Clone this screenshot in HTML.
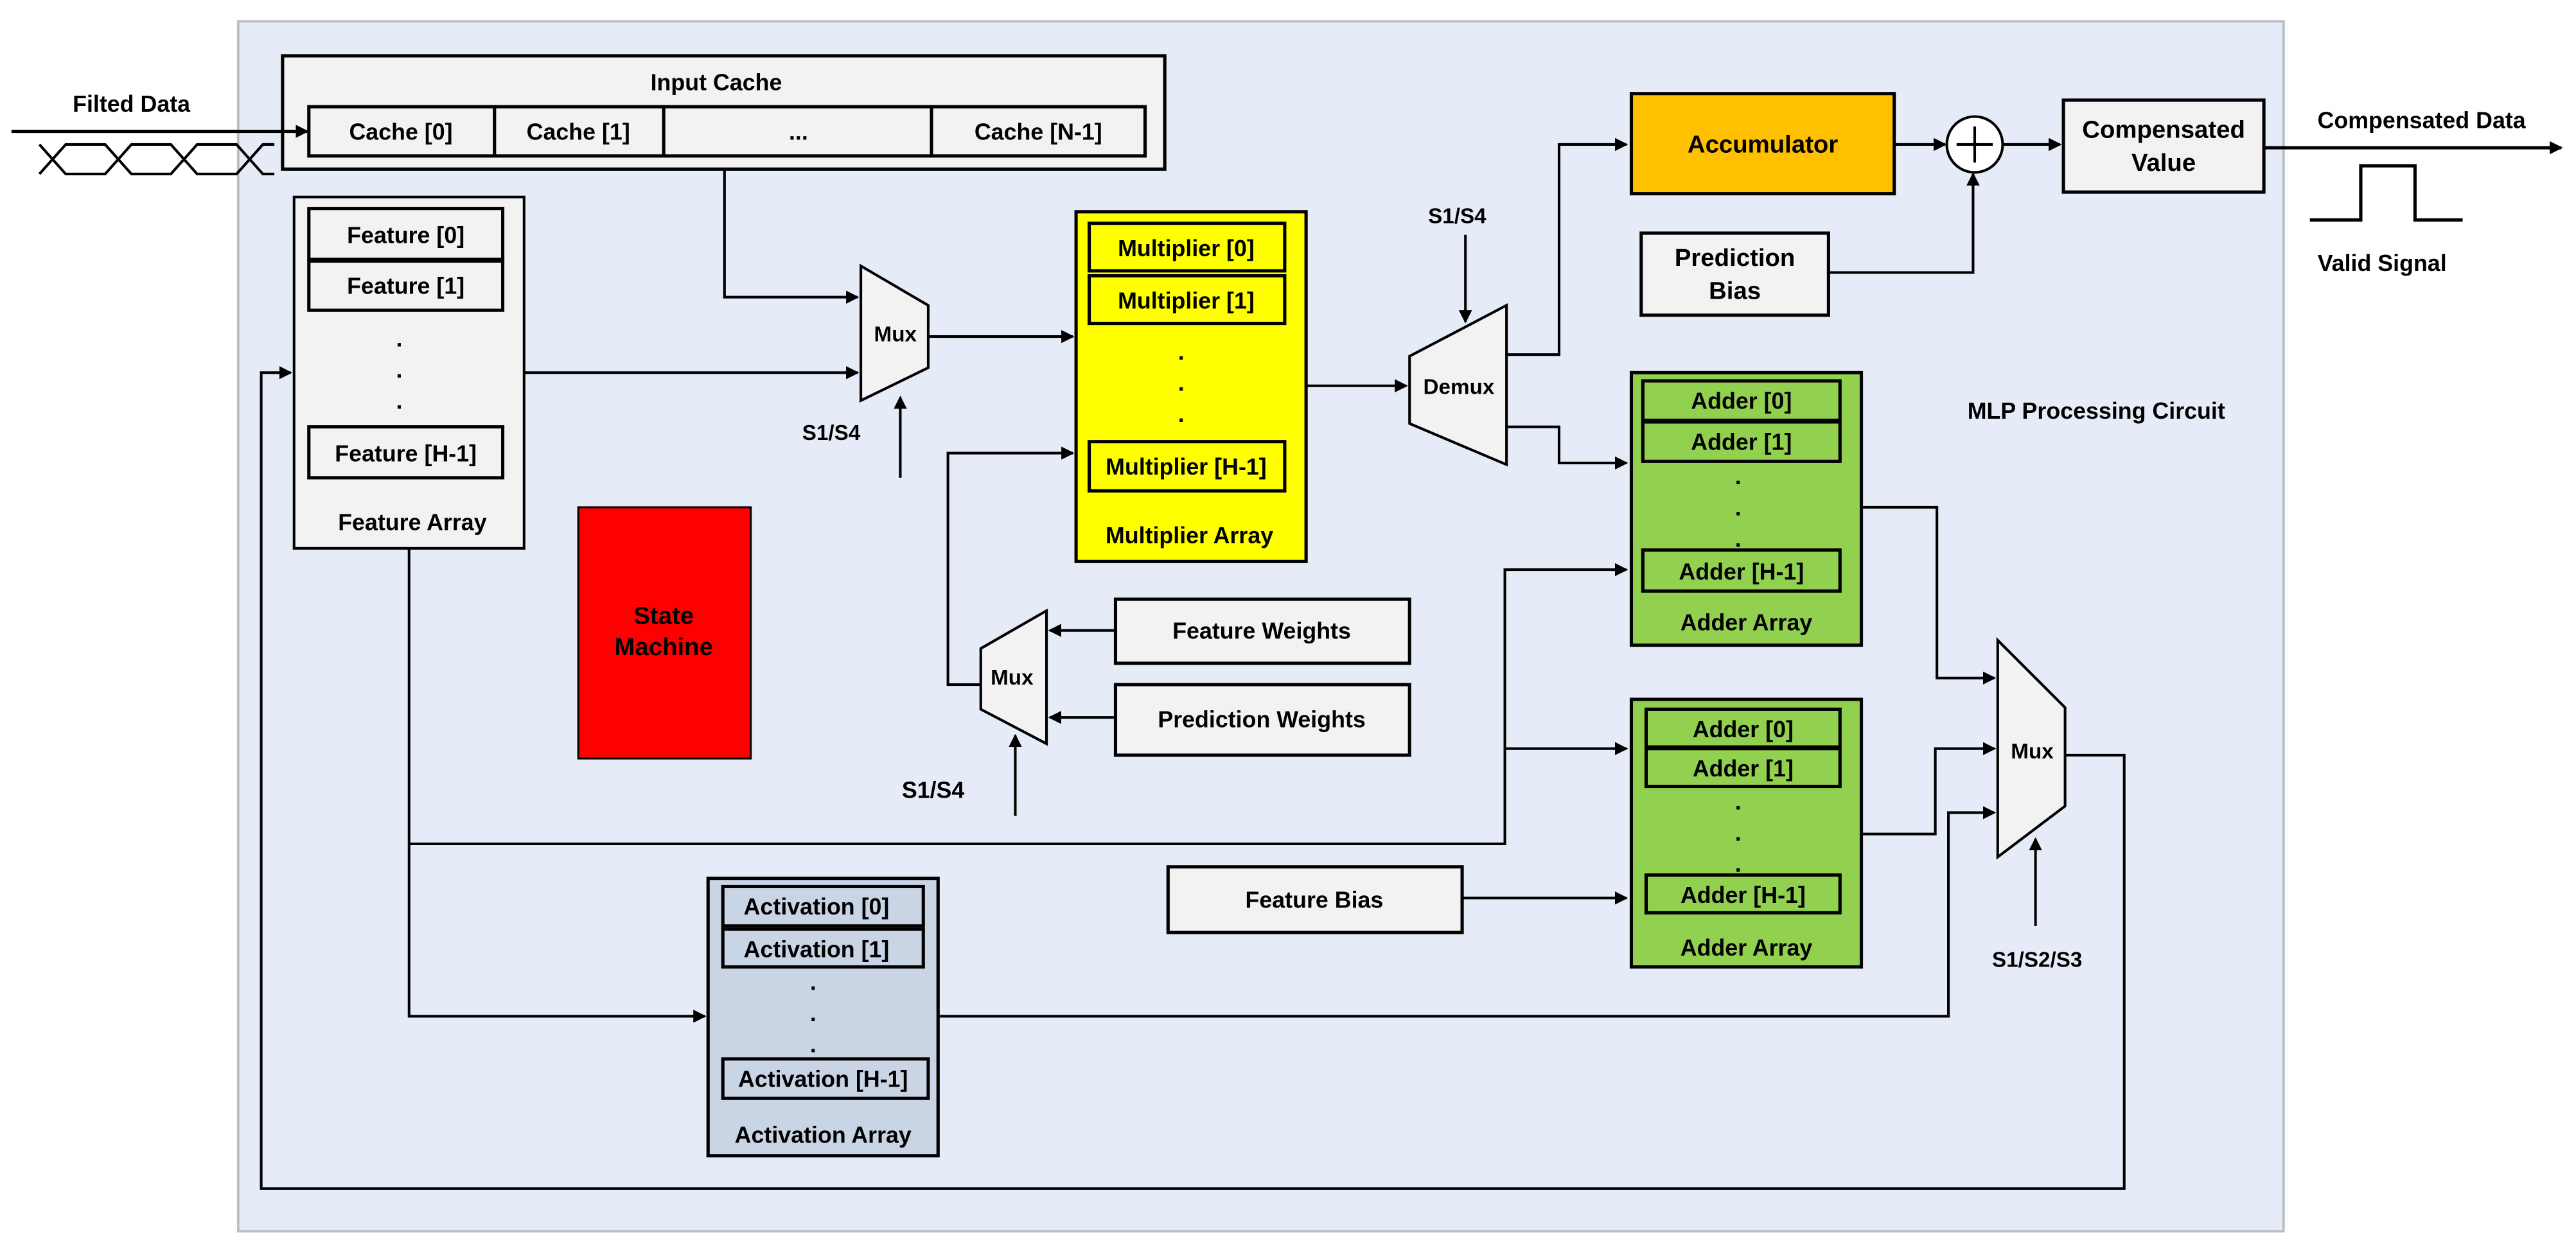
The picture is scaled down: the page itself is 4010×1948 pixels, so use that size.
<!DOCTYPE html>
<html><head><meta charset="utf-8"><style>
html,body{margin:0;padding:0;background:#fff;}
svg{display:block;}
text{font-family:"Liberation Sans",sans-serif;font-weight:bold;fill:#000;}
</style></head><body>
<svg width="4010" height="1948" viewBox="0 0 1568 762" preserveAspectRatio="none" xmlns="http://www.w3.org/2000/svg">
<defs>
<marker id="a" markerWidth="8" markerHeight="8" refX="7" refY="4" orient="auto" markerUnits="userSpaceOnUse"><path d="M0,0 L8,4 L0,8 z" fill="#000"/></marker>
</defs>
<rect x="145" y="13" width="1245" height="737" fill="#e6ecf7" stroke="#b8bec8" stroke-width="1.5"/>

<g stroke="#000" fill="none" stroke-width="1.6">
<path d="M24,88 L32,97 L40,106 L64,106 L72,97 L80,88 L104,88 L112,97 L120,106 L144,106 L152,97 L160,88 L167,88"/>
<path d="M24,106 L32,97 L40,88 L64,88 L72,97 L80,106 L104,106 L112,97 L120,88 L144,88 L152,97 L160,106 L167,106"/>
<!-- cache to mux -->
<polyline points="441,103 441,181 522,181" marker-end="url(#a)"/>
<line x1="319" y1="227" x2="522" y2="227" marker-end="url(#a)"/>
<line x1="548" y1="291" x2="548" y2="242" marker-end="url(#a)"/>
<line x1="565" y1="205" x2="653" y2="205" marker-end="url(#a)"/>
<!-- mux2 to mult -->
<polyline points="597,417 577,417 577,276 653,276" marker-end="url(#a)"/>
<line x1="679" y1="384" x2="639" y2="384" marker-end="url(#a)"/>
<line x1="679" y1="437" x2="639" y2="437" marker-end="url(#a)"/>
<line x1="618" y1="497" x2="618" y2="448" marker-end="url(#a)"/>
<!-- mult to demux -->
<line x1="795" y1="235" x2="856" y2="235" marker-end="url(#a)"/>
<line x1="892" y1="143" x2="892" y2="196" marker-end="url(#a)"/>
<polyline points="917,216 949,216 949,88 990,88" marker-end="url(#a)"/>
<polyline points="917,260 949,260 949,282 990,282" marker-end="url(#a)"/>
<line x1="1153" y1="88" x2="1184" y2="88" marker-end="url(#a)"/>
<line x1="1219" y1="88" x2="1254" y2="88" marker-end="url(#a)"/>
<polyline points="1113,166 1201,166 1201,106" marker-end="url(#a)"/>
<line x1="1378" y1="90" x2="1559" y2="90" stroke-width="2" marker-end="url(#a)"/>
<polyline points="1406,134 1437,134 1437,101 1470,101 1470,134 1499,134" stroke-width="2"/>
<!-- feature array down -->
<polyline points="249,334 249,619 429,619" marker-end="url(#a)"/>
<polyline points="249,514 916,514 916,347 990,347" marker-end="url(#a)"/>
<line x1="916" y1="456" x2="990" y2="456" marker-end="url(#a)"/>
<line x1="890" y1="547" x2="990" y2="547" marker-end="url(#a)"/>
<!-- to mux3 -->
<polyline points="1133,309 1179,309 1179,413 1214,413" marker-end="url(#a)"/>
<polyline points="1133,508 1178,508 1178,456 1214,456" marker-end="url(#a)"/>
<polyline points="571,619 1186,619 1186,495 1214,495" marker-end="url(#a)"/>
<line x1="1239" y1="564" x2="1239" y2="511" marker-end="url(#a)"/>
<polyline points="1257,460 1293,460 1293,724 159,724 159,227 177,227" marker-end="url(#a)"/>
</g>

<!-- Input cache -->
<rect x="172" y="34" width="537" height="69" fill="#f2f2f2" stroke="#000" stroke-width="2"/>
<rect x="188" y="65" width="509" height="30" fill="#f2f2f2" stroke="#000" stroke-width="2"/>
<g stroke="#000" stroke-width="2"><line x1="301" y1="65" x2="301" y2="95"/><line x1="404" y1="65" x2="404" y2="95"/><line x1="567" y1="65" x2="567" y2="95"/></g>
<line x1="7" y1="80" x2="187" y2="80" stroke="#000" stroke-width="2" marker-end="url(#a)"/>
<g font-size="14" text-anchor="middle">
<text x="436" y="55">Input Cache</text>
<text x="244" y="85">Cache [0]</text><text x="352" y="85">Cache [1]</text><text x="486" y="85">...</text><text x="632" y="85">Cache [N-1]</text>
<text x="80" y="68">Filted Data</text>
</g>

<!-- Feature array -->
<rect x="179" y="120" width="140" height="214" fill="#f2f2f2" stroke="#000" stroke-width="1.6"/>
<g fill="#f2f2f2" stroke="#000" stroke-width="2">
<rect x="188" y="127" width="118" height="31"/><rect x="188" y="159" width="118" height="30"/><rect x="188" y="260" width="118" height="31"/></g>
<g font-size="14" text-anchor="middle">
<text x="247" y="148">Feature [0]</text><text x="247" y="179">Feature [1]</text>
<text x="243" y="211">.</text><text x="243" y="230">.</text><text x="243" y="249">.</text>
<text x="247" y="281">Feature [H-1]</text><text x="251" y="323">Feature Array</text>
</g>

<!-- Mux1 -->
<polygon points="524,162 565,186 565,224 524,244" fill="#f2f2f2" stroke="#000" stroke-width="1.6"/>
<text x="545" y="208" font-size="13" text-anchor="middle">Mux</text>
<text x="506" y="268" font-size="13" text-anchor="middle">S1/S4</text>

<!-- Multiplier array -->
<rect x="655" y="129" width="140" height="213" fill="#ffff00" stroke="#000" stroke-width="2"/>
<g fill="#ffff00" stroke="#000" stroke-width="2">
<rect x="663" y="136" width="119" height="29"/><rect x="663" y="168" width="119" height="29"/><rect x="663" y="269" width="119" height="30"/></g>
<g font-size="14" text-anchor="middle">
<text x="722" y="156">Multiplier [0]</text><text x="722" y="188">Multiplier [1]</text>
<text x="719" y="219">.</text><text x="719" y="238">.</text><text x="719" y="257">.</text>
<text x="722" y="289">Multiplier [H-1]</text><text x="724" y="331">Multiplier Array</text>
</g>

<!-- State machine -->
<rect x="352" y="309" width="105" height="153" fill="#ff0000" stroke="#000" stroke-width="1.2"/>
<text x="404" y="380" font-size="15" text-anchor="middle">State</text>
<text x="404" y="399" font-size="15" text-anchor="middle">Machine</text>

<!-- Mux2 -->
<polygon points="597,395 637,372 637,453 597,432" fill="#f2f2f2" stroke="#000" stroke-width="1.6"/>
<text x="616" y="417" font-size="13" text-anchor="middle">Mux</text>
<rect x="679" y="365" width="179" height="39" fill="#f2f2f2" stroke="#000" stroke-width="2"/>
<rect x="679" y="417" width="179" height="43" fill="#f2f2f2" stroke="#000" stroke-width="2"/>
<g font-size="14" text-anchor="middle">
<text x="768" y="389">Feature Weights</text><text x="768" y="443">Prediction Weights</text>
<text x="568" y="486">S1/S4</text>
</g>

<!-- Demux -->
<polygon points="858,217 917,186 917,283 858,258" fill="#f2f2f2" stroke="#000" stroke-width="1.6"/>
<text x="888" y="240" font-size="13" text-anchor="middle">Demux</text>
<text x="887" y="136" font-size="13" text-anchor="middle">S1/S4</text>

<!-- Accumulator etc -->
<rect x="993" y="57" width="160" height="61" fill="#ffc000" stroke="#000" stroke-width="2"/>
<text x="1073" y="93" font-size="15" text-anchor="middle">Accumulator</text>
<circle cx="1202" cy="88" r="17" fill="#fff" stroke="#000" stroke-width="1.6"/>
<g stroke="#000" stroke-width="1.6"><line x1="1191" y1="88" x2="1213" y2="88"/><line x1="1202" y1="77" x2="1202" y2="99"/></g>
<rect x="1256" y="61" width="122" height="56" fill="#f2f2f2" stroke="#000" stroke-width="2"/>
<g font-size="15" text-anchor="middle"><text x="1317" y="84">Compensated</text><text x="1317" y="104">Value</text></g>
<rect x="999" y="142" width="114" height="50" fill="#f2f2f2" stroke="#000" stroke-width="2"/>
<g font-size="15" text-anchor="middle"><text x="1056" y="162">Prediction</text><text x="1056" y="182">Bias</text></g>
<g font-size="14" text-anchor="middle">
<text x="1474" y="78">Compensated Data</text><text x="1450" y="165">Valid Signal</text>
<text x="1276" y="255">MLP Processing Circuit</text>
</g>

<!-- Adder array 1 -->
<rect x="993" y="227" width="140" height="166" fill="#92d050" stroke="#000" stroke-width="2"/>
<g fill="#92d050" stroke="#000" stroke-width="2">
<rect x="1000" y="232" width="120" height="24"/><rect x="1000" y="257" width="120" height="24"/><rect x="1000" y="335" width="120" height="25"/></g>
<g font-size="14" text-anchor="middle">
<text x="1060" y="249">Adder [0]</text><text x="1060" y="274">Adder [1]</text>
<text x="1058" y="295">.</text><text x="1058" y="314">.</text><text x="1058" y="333">.</text>
<text x="1060" y="353">Adder [H-1]</text><text x="1063" y="384">Adder Array</text>
</g>

<!-- Adder array 2 -->
<rect x="993" y="426" width="140" height="163" fill="#92d050" stroke="#000" stroke-width="2"/>
<g fill="#92d050" stroke="#000" stroke-width="2">
<rect x="1002" y="432" width="118" height="23"/><rect x="1002" y="456" width="118" height="23"/><rect x="1002" y="533" width="118" height="23"/></g>
<g font-size="14" text-anchor="middle">
<text x="1061" y="449">Adder [0]</text><text x="1061" y="473">Adder [1]</text>
<text x="1058" y="493">.</text><text x="1058" y="512">.</text><text x="1058" y="531">.</text>
<text x="1061" y="550">Adder [H-1]</text><text x="1063" y="582">Adder Array</text>
</g>
<rect x="711" y="528" width="179" height="40" fill="#f2f2f2" stroke="#000" stroke-width="2"/>
<text x="800" y="553" font-size="14" text-anchor="middle">Feature Bias</text>

<!-- Mux3 -->
<polygon points="1216,390 1257,431 1257,491 1216,522" fill="#f2f2f2" stroke="#000" stroke-width="1.6"/>
<text x="1237" y="462" font-size="13" text-anchor="middle">Mux</text>
<text x="1240" y="589" font-size="13" text-anchor="middle">S1/S2/S3</text>

<!-- Activation -->
<rect x="431" y="535" width="140" height="169" fill="#c9d5e4" stroke="#000" stroke-width="2"/>
<g fill="#c9d5e4" stroke="#000" stroke-width="2">
<rect x="440" y="540" width="122" height="24"/><rect x="440" y="566" width="122" height="23"/><rect x="440" y="645" width="125" height="24"/></g>
<g font-size="14" text-anchor="middle">
<text x="497" y="557">Activation [0]</text><text x="497" y="583">Activation [1]</text>
<text x="495" y="603">.</text><text x="495" y="622">.</text><text x="495" y="641">.</text>
<text x="501" y="662">Activation [H-1]</text><text x="501" y="696">Activation Array</text>
</g>
</svg>
</body></html>
